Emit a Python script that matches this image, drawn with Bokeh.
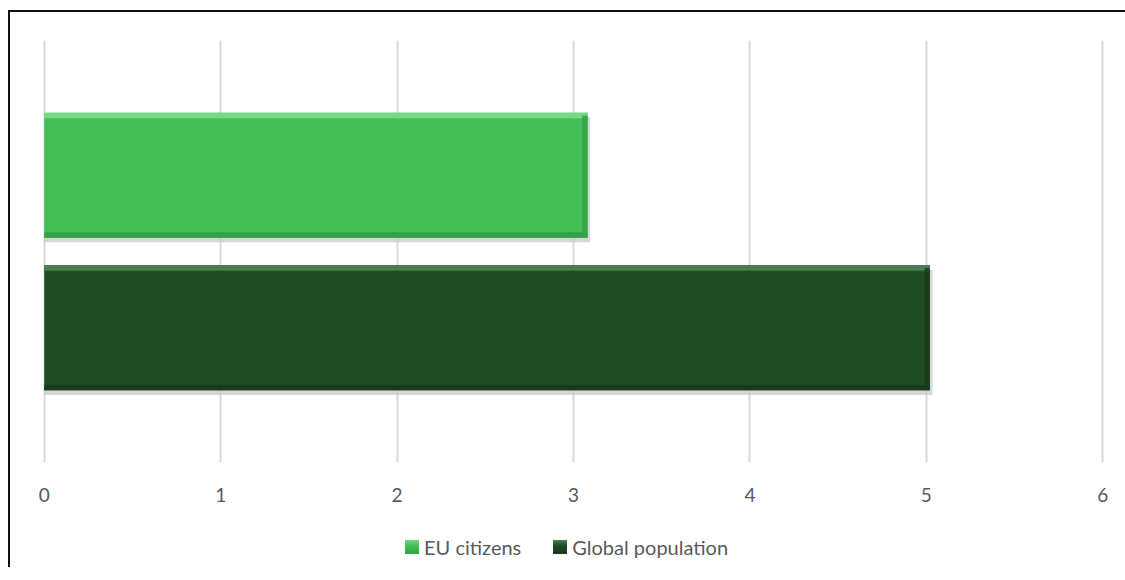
from bokeh.plotting import figure
from bokeh.models import Range1d, FixedTicker, Div
from bokeh.layouts import column
from bokeh.embed import file_html
from bokeh.resources import INLINE

# ---- data ----
series = ["EU citizens", "Global population"]
values = [3.08, 5.02]
ticks = [0, 1, 2, 3, 4, 5, 6]

# ---- styles ----
main_colors = ["#43bf58", "#1f4d25"]
light_colors = ["#74d884", "#4d7d52"]
dark_colors = ["#34a047", "#163b1a"]
FONT = "Lato"

p = figure(frame_width=1062, frame_height=422, output_backend="svg", toolbar_location=None,
           x_range=Range1d(-0.01, 6.01), y_range=Range1d(-0.883, 1.883),
           min_border_left=32, min_border_right=21, min_border_top=28, min_border_bottom=65)
p.outline_line_color = None
p.background_fill_color = "white"
p.border_fill_color = "white"

p.yaxis.visible = False
p.ygrid.visible = False
p.xgrid.grid_line_color = "#d9d9d9"
p.xgrid.grid_line_width = 2
p.xaxis.ticker = FixedTicker(ticks=ticks)
p.xaxis.axis_line_color = None
p.xaxis.major_tick_line_color = None
p.xaxis.minor_tick_line_color = None
p.xaxis.major_label_text_font = FONT
p.xaxis.major_label_text_font_size = "19px"
p.xaxis.major_label_text_color = "#595959"
p.xaxis.major_label_standoff = 19

H = 0.82
n = len(series)
legend_parts = []
for i, (name, v) in enumerate(zip(series, values)):
    y = n - 1 - i
    # shadow
    p.hbar(y=[y - 0.03], left=[0], right=[v + 0.015], height=H, fill_color="#c4c4c4",
           fill_alpha=0.7, line_color=None)
    p.hbar(y=[y], left=[0], right=[v], height=H, fill_color=main_colors[i], line_color=None)
    # top highlight
    p.hbar(y=[y + H / 2 - 0.018], left=[0], right=[v], height=0.036,
           fill_color=light_colors[i], line_color=None)
    # bottom dark edge
    p.hbar(y=[y - H / 2 + 0.018], left=[0], right=[v], height=0.036,
           fill_color=dark_colors[i], line_color=None)
    # right dark edge
    p.hbar(y=[y], left=[v - 0.03], right=[v], height=H - 0.036,
           fill_color=dark_colors[i], line_color=None, fill_alpha=0.8)
    gap = "0" if i == 0 else "32px"
    legend_parts.append(
        f'<span style="display:inline-flex;align-items:center;margin-left:{gap}">'
        f'<span style="display:inline-block;width:14px;height:14px;margin-right:5px;'
        f'background:linear-gradient({light_colors[i]}, {main_colors[i]} 40%, {dark_colors[i]});"></span>'
        f'{name}</span>'
    )

legend_html = (
    f'<div style="display:flex;align-items:center;height:30px;padding-left:390px;'
    f'font-family:{FONT};font-size:20px;color:#595959;white-space:nowrap;">'
    + "".join(legend_parts) + "</div>"
)
legend_div = Div(text=legend_html, width=1115, height=30)

layout = column(p, legend_div, spacing=0)
layout.styles = {"margin-left": "8px", "margin-top": "10px",
                 "border-top": "2px solid #111", "border-left": "2px solid #111"}

open("out.html", "w").write(file_html(layout, INLINE))
